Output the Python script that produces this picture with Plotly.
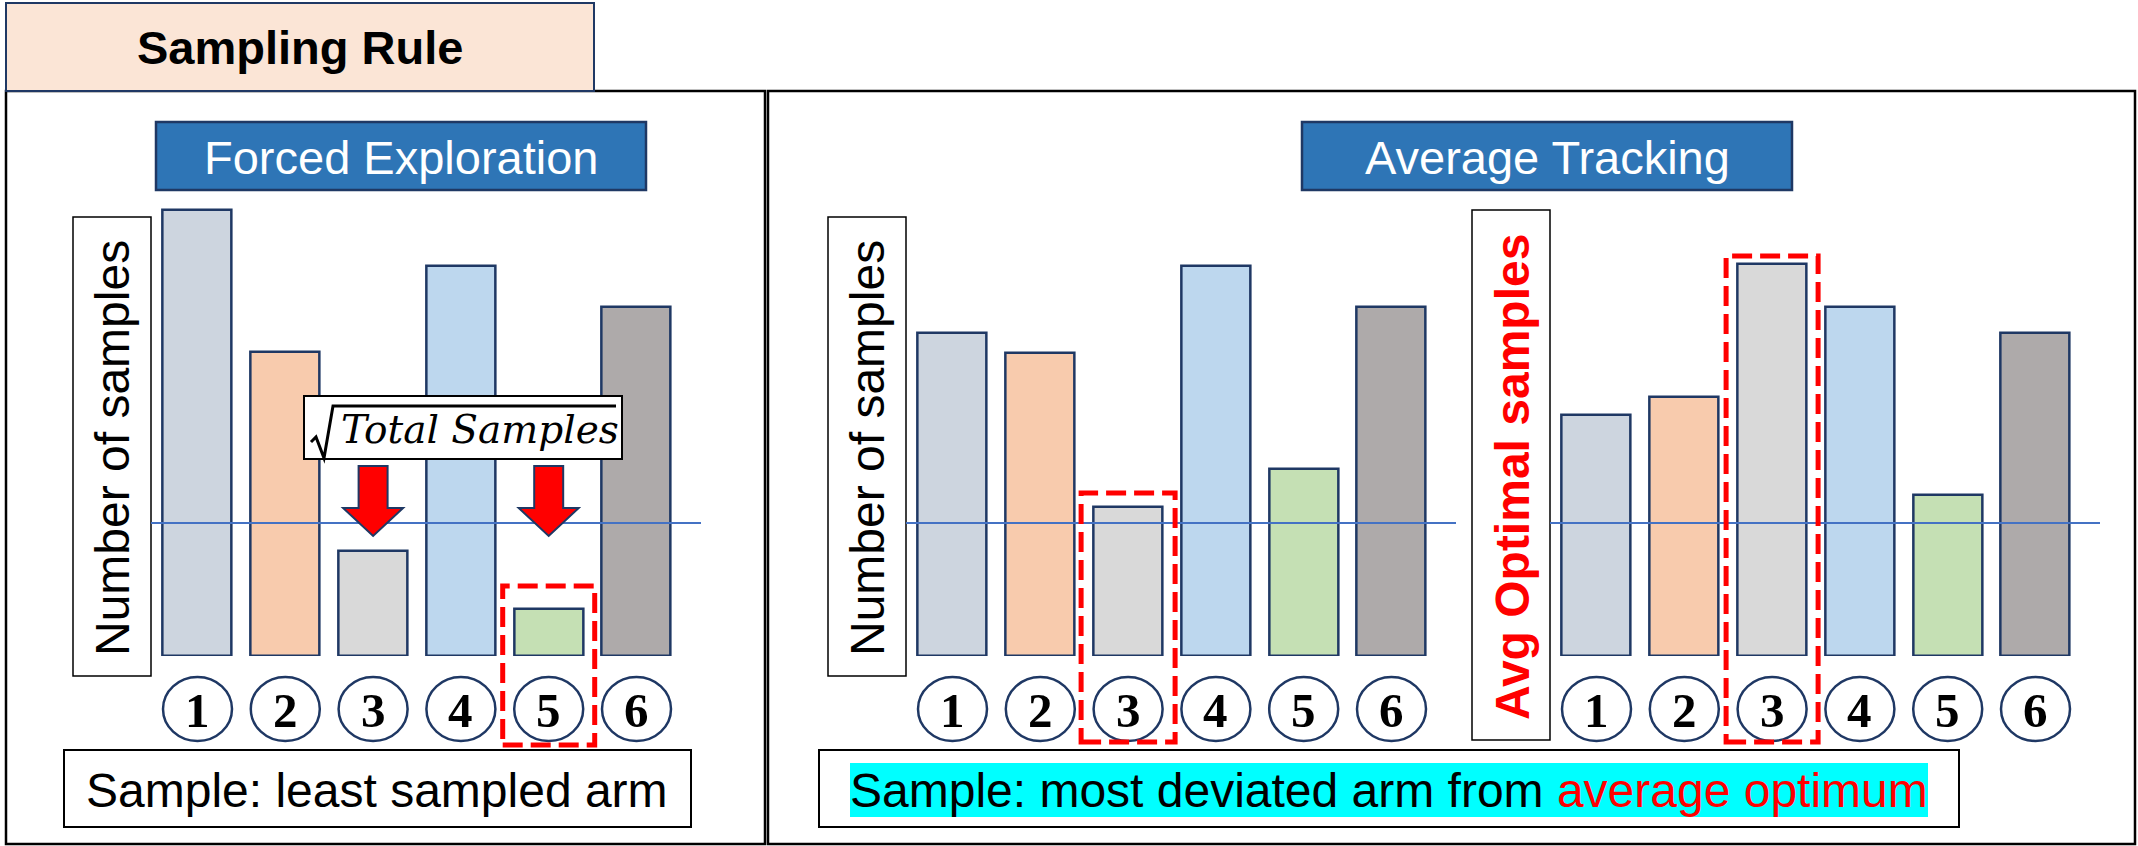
import plotly.graph_objects as go

# ---- data -------------------------------------------------------------
arms = [1, 2, 3, 4, 5, 6]
arm_labels = ["1", "2", "3", "4", "5", "6"]
forced_counts = [111.5, 76, 26.25, 97.5, 11.75, 87.25]      # samples per arm (forced exploration)
tracking_counts = [80.75, 75.75, 37.25, 97.5, 46.75, 87.25]  # samples per arm (average tracking)
avg_optimal = [60.25, 64.75, 98, 87.25, 40.25, 80.75]        # average optimal allocation
threshold = 33.25                                            # sqrt(total samples) level
bar_colors = ["#CDD5DF", "#F8CBAD", "#D9D9D9", "#BDD7EE", "#C5E0B4", "#AEAAAA"]

# ---- canvas helpers ---------------------------------------------------
W, H = 2138, 846
NAVY = "#1F3864"
SANS = "Liberation Sans, Arial, sans-serif"
SERIF = "Liberation Serif, Times New Roman, serif"


def px(x):
    return x / W


def py(y):
    return 1 - y / H


PITCH = 87.8          # pixel distance between neighbouring bars
BAR_W = 69 / PITCH    # bar width in category units
Y_BOTTOM, Y_SPAN, Y_MAX = 656, 456, 114
first_centers = [197.5, 952.5, 1596.5]

fig = go.Figure()
series = [forced_counts, tracking_counts, avg_optimal]
for k, (vals, c1) in enumerate(zip(series, first_centers)):
    sfx = "" if k == 0 else str(k + 1)
    fig.add_trace(go.Bar(
        x=arms, y=vals, width=BAR_W,
        marker=dict(color=bar_colors, line=dict(color=NAVY, width=2.5)),
        xaxis="x" + sfx, yaxis="y" + sfx, hoverinfo="skip",
    ))
    ax = dict(domain=[px(c1 - PITCH / 2), px(c1 + 5.5 * PITCH)], range=[0.5, 6.5],
              visible=False, fixedrange=True, anchor="y" + sfx)
    ay = dict(domain=[py(Y_BOTTOM), py(Y_BOTTOM - Y_SPAN)], range=[0, Y_MAX],
              visible=False, fixedrange=True, anchor="x" + sfx)
    fig.update_layout(**{"xaxis" + sfx: ax, "yaxis" + sfx: ay})

shapes = []
annotations = []


def rect(x0, y0, x1, y1, line="black", width=2, fill="rgba(0,0,0,0)", dash=None, layer="above"):
    ln = dict(color=line, width=width)
    if dash:
        ln["dash"] = dash
    shapes.append(dict(type="rect", xref="paper", yref="paper", x0=px(x0), x1=px(x1),
                       y0=py(y1), y1=py(y0), line=ln, fillcolor=fill, layer=layer))


def text(t, x, y, size, color="black", family=SANS, weight="normal", style="normal", angle=0,
         xref="paper"):
    annotations.append(dict(text=t, x=x if xref != "paper" else px(x), y=py(y),
                            xref=xref, yref="paper", showarrow=False,
                            xanchor="center", yanchor="middle", textangle=angle,
                            font=dict(family=family, size=size, color=color,
                                      weight=weight, style=style)))


# outer frames and header
rect(6, 91, 765, 844, width=2.5, layer="below")
rect(768, 91, 2135, 844, width=2.5, layer="below")
rect(6, 3, 594, 91, line=NAVY, width=2, fill="#FBE5D6", layer="below")
text("Sampling Rule", 300, 48, 47, weight="bold")

# panel titles
rect(156, 122, 646, 190, line=NAVY, width=2.5, fill="#2E75B6", layer="below")
text("Forced Exploration", 401, 157, 47, color="white")
rect(1302, 122, 1792, 190, line=NAVY, width=2.5, fill="#2E75B6", layer="below")
text("Average Tracking", 1547, 157, 47, color="white")

# axis caption boxes
rect(73, 217, 151, 676, width=1.5, fill="white", layer="below")
text("Number of samples", 112, 448, 48, angle=-90)
rect(828, 217, 906, 676, width=1.5, fill="white", layer="below")
text("Number of samples", 867, 448, 48, angle=-90)
rect(1472, 210, 1550, 740, width=1.5, fill="white", layer="below")
text("Avg Optimal samples", 1512, 477, 48, color="#FF0000", weight="bold", angle=-90)

# threshold / reference lines
for yref, (x0, x1) in zip(["y", "y2", "y3"], [(151, 701), (906, 1456), (1550, 2100)]):
    shapes.append(dict(type="line", xref="paper", yref=yref, x0=px(x0), x1=px(x1),
                       y0=threshold, y1=threshold, line=dict(color="#4472C4", width=2),
                       layer="above"))

# sqrt(Total Samples) label
rect(304, 396, 622, 459, width=2, fill="white")
shapes.append(dict(type="path", xref="paper", yref="paper",
                   path=f"M {px(311)},{py(442)} L {px(316)},{py(437)} L {px(324)},{py(458)} "
                        f"L {px(333)},{py(406)} L {px(616)},{py(406)}",
                   line=dict(color="black", width=3), layer="above"))
text("Total Samples", 480, 430, 39, family="DejaVu Serif, serif", style="italic")

# arrows above arms that fall under the threshold
sw, hw = 14.5 / PITCH, 30 / PITCH
for arm, v in zip(arms, forced_counts):
    if v < threshold:
        c = arm
        path = (f"M {c - sw},{py(466)} L {c + sw},{py(466)} L {c + sw},{py(508)} "
                f"L {c + hw},{py(508)} L {c},{py(536)} L {c - hw},{py(508)} "
                f"L {c - sw},{py(508)} Z")
        shapes.append(dict(type="path", xref="x", yref="paper", path=path,
                           fillcolor="#FF0000", line=dict(color=NAVY, width=2), layer="above"))

# numbered arm markers under each panel
rx = 34.5 / PITCH
for sfx in ["", "2", "3"]:
    for arm, lab in zip(arms, arm_labels):
        shapes.append(dict(type="circle", xref="x" + sfx, yref="paper",
                           x0=arm - rx, x1=arm + rx, y0=py(741), y1=py(677),
                           line=dict(color=NAVY, width=2.5), fillcolor="white", layer="above"))
        text(lab, arm, 710, 49, family=SERIF, weight="bold", xref="x" + sfx)

# highlighted arms
least = arms[forced_counts.index(min(forced_counts))]
dev = [abs(a - b) for a, b in zip(avg_optimal, tracking_counts)]
most = arms[dev.index(max(dev))]
DASH = "20px,8px"
for sfx, arm, half, (y0, y1) in [("", least, 46 / PITCH, (586, 745)),
                                  ("2", most, 47 / PITCH, (493, 742)),
                                  ("3", most, 46 / PITCH, (256, 742))]:
    shapes.append(dict(type="rect", xref="x" + sfx, yref="paper", x0=arm - half, x1=arm + half,
                       y0=py(y1), y1=py(y0), line=dict(color="#FF0000", width=5, dash=DASH),
                       fillcolor="rgba(0,0,0,0)", layer="above"))

# rule captions
rect(64, 750, 691, 827, width=2, fill="white")
text("Sample: least sampled arm", 377, 790, 48)
rect(819, 750, 1959, 827, width=2, fill="white")
rect(850, 763, 1928, 817, line="rgba(0,0,0,0)", width=0, fill="#00FFFF")
text("Sample: most deviated arm from <span style='color:#FF0000'>average optimum</span>",
     1389, 790, 48)

fig.update_layout(
    width=W, height=H, margin=dict(l=0, r=0, t=0, b=0),
    paper_bgcolor="white", plot_bgcolor="rgba(0,0,0,0)",
    showlegend=False, bargap=0, shapes=shapes, annotations=annotations,
)
fig.write_html("out.html", config={"displayModeBar": False})
